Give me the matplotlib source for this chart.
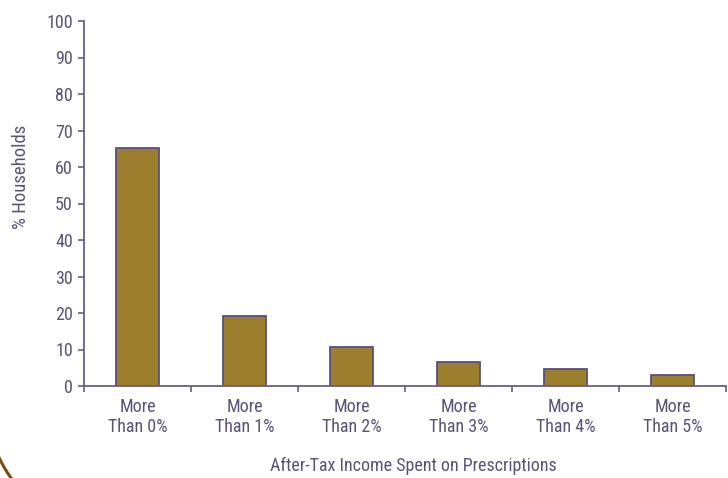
import matplotlib
matplotlib.use("Agg")
import matplotlib.pyplot as plt
from matplotlib.patches import Arc
import numpy as np

categories = ["More\nThan 0%", "More\nThan 1%", "More\nThan 2%",
              "More\nThan 3%", "More\nThan 4%", "More\nThan 5%"]
households_pct = [65.2, 19.2, 10.6, 6.6, 4.6, 3.1]
y_ticks = [0, 10, 20, 30, 40, 50, 60, 70, 80, 90, 100]

text_color = "#5B5277"
axis_color = "#6A5D85"
bar_color = "#9B7F2E"
bar_edge = "#5E4F7A"

plt.rcParams["font.family"] = ["Roboto Condensed", "Liberation Sans", "DejaVu Sans"]
fs = 13

fig = plt.figure(figsize=(7.28, 4.78), dpi=100)
ax = fig.add_axes([84 / 728, 1 - 386 / 478, 642 / 728, 365 / 478])

x = np.arange(len(categories))
ax.bar(x, households_pct, width=0.41, color=bar_color, edgecolor=bar_edge, linewidth=1.3)

ax.set_xlim(-0.5, len(categories) - 0.5)
ax.set_ylim(0, 100)
ax.set_yticks(y_ticks)
ax.set_yticklabels([str(v) for v in y_ticks])
ax.set_xticks(x)
ax.set_xticklabels(categories, linespacing=1.1)
ax.set_xticks(np.arange(len(categories) + 1) - 0.5, minor=True)

ax.tick_params(axis="x", which="major", length=0, pad=9, labelsize=fs, labelcolor=text_color)
ax.tick_params(axis="x", which="minor", length=4, width=1.2, color=axis_color, direction="out")
ax.tick_params(axis="y", length=4, width=1.2, color=axis_color, labelsize=fs,
               labelcolor=text_color, pad=4)

for side in ("top", "right"):
    ax.spines[side].set_visible(False)
for side in ("left", "bottom"):
    ax.spines[side].set_color(axis_color)
    ax.spines[side].set_linewidth(1.3)

ax.set_ylabel("% Households", fontsize=13.5, color=text_color)
ax.yaxis.set_label_coords(-(84 - 30) / 642, (386 - 177) / 365)
ax.set_xlabel("After-Tax Income Spent on Prescriptions", fontsize=fs, color=text_color)
ax.xaxis.set_label_coords((413 - 84) / 642, -(466 - 386) / 365)
ax.xaxis.label.set_verticalalignment("center")

# decorative brown arc in the lower-left corner (display pixel coordinates)
arc = Arc((120, 78), 268, 268, angle=0, theta1=195, theta2=230,
          transform=None, color="#7A4E14", linewidth=2.2)
fig.add_artist(arc)

fig.savefig("out.png", dpi=100)
